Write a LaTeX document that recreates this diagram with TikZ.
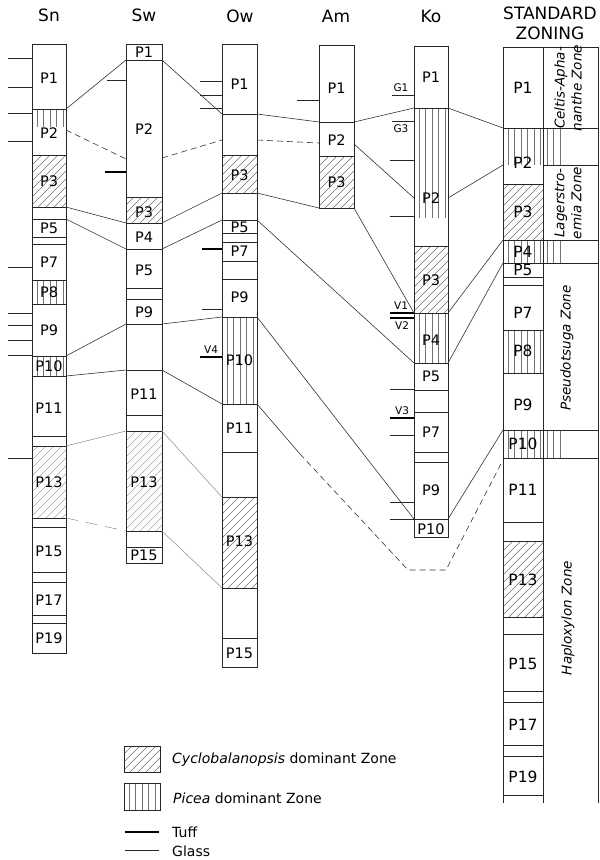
\documentclass[tikz,border=0pt]{standalone}
\usepackage{fontspec}
\setmainfont{DejaVu Sans}
\newcommand\dhatch[5][hatchline]{\begin{scope}\clip (#2,#3) rectangle (#4,#5);
 \foreach \k in {-130,-122,...,60}{\draw[#1] (#2+\k,#5) -- ++(200,-200);}\end{scope}}
\newcommand\vhatch[4]{\begin{scope}\clip (#1,#2) rectangle (#3,#4);
 \foreach \k in {5,11.5,...,60}{\draw[vln] (#1+\k,#2) -- (#1+\k,#4);}\end{scope}}
\newcommand\lk[6][corr]{\coordinate (#2a) at (#3,#4); \coordinate (#2b) at (#5,#6); \draw[#1] (#2a) -- (#2b);}
\newcommand\hls[3]{\foreach \yy in {#3}{\draw[frame] (#1,\yy) -- (#2,\yy);}}
\newcommand\tks[4][glass]{\foreach \yy in {#4}{\draw[#1] (#2,\yy) -- (#3,\yy);}}
\begin{document}
\begin{tikzpicture}[x=1pt,y=-1pt,
  frame/.style={draw=black!85, line width=0.7pt},
  hatchline/.style={draw=black!55, line width=0.4pt},
  fainthatch/.style={draw=black!35, line width=0.4pt},
  vln/.style={draw=black!55, line width=0.4pt},
  corr/.style={draw=black!80, line width=0.6pt},
  faint/.style={draw=black!45, line width=0.5pt},
  dashcorr/.style={corr, dash pattern=on 6pt off 4pt},
  faintdash/.style={faint, dash pattern=on 12pt off 8pt},
  glass/.style={draw=black!85, line width=0.6pt},
  tuff/.style={draw=black, line width=1.4pt},
  lab/.style={font=\fontsize{14.5}{15}\selectfont, inner sep=0pt},
  slab/.style={font=\fontsize{15.5}{16}\selectfont, inner sep=0pt},
  ttl/.style={font=\fontsize{17}{18}\selectfont, inner sep=0pt},
  tk/.style={font=\fontsize{10.5}{11}\selectfont, inner sep=0pt},
  zone/.style={font=\fontsize{13.5}{17}\selectfont\itshape, rotate=90, align=center, inner sep=0pt},
  leg/.style={font=\fontsize{14}{15}\selectfont, inner sep=0pt, anchor=west},
]
\useasboundingbox (0,0) rectangle (600,860);

% ---------- titles ----------
\node[ttl] (tSn) at (49,15) {Sn};
\node[ttl] (tSw) at (144,15) {Sw};
\node[ttl] (tOw) at (240,16) {Ow};
\node[ttl] (tAm) at (336,16) {Am};
\node[ttl] (tKo) at (431,16) {Ko};
\node[ttl] (tStd1) at (550,13) {STANDARD};
\node[ttl] (tStd2) at (550,33) {ZONING};

% ---------- hatching ----------
% Sn
\vhatch{32}{109}{66}{127}
\dhatch{32}{155}{66}{207}
\vhatch{32}{280}{66}{304}
\vhatch{32}{356}{66}{376}
\dhatch[fainthatch]{32}{446}{66}{518}
% Sw
\dhatch{126}{197}{162}{223}
\dhatch[fainthatch]{126}{431}{162}{531}
% Ow
\dhatch{222}{155}{257}{193}
\vhatch{222}{317}{257}{404}
\dhatch{222}{497}{257}{588}
% Am
\dhatch{319}{156}{354}{208}
% Ko
\vhatch{414}{108}{448}{218}
\dhatch{414}{246}{448}{313}
\vhatch{414}{313}{448}{363}
% Standard
\vhatch{503}{128}{598}{165}
\dhatch{503}{184}{543}{240}
\vhatch{503}{240}{598}{263}
\vhatch{503}{330}{543}{373}
\vhatch{503}{430}{598}{458}
\dhatch{503}{541}{543}{617}

% ---------- columns ----------
\draw[frame] (32,44) rectangle (66,653);
\hls{32}{66}{109,155,207,219,237,244,280,304,356,376,436,446,518,527,572,582,615,623}
\draw[frame] (126,44) rectangle (162,563);
\hls{126}{162}{60,197,223,249,288,299,324,370,415,431,531,547}
\draw[frame] (222,44) rectangle (257,667);
\hls{222}{257}{114,155,193,220,233,242,261,279,317,404,452,497,588,638}
\draw[frame] (319,45) rectangle (354,208);
\hls{319}{354}{122,156}
\draw[frame] (414,46) rectangle (448,537);
\hls{414}{448}{108,246,313,363,390,412,452,462,519}
% Standard
\draw[frame] (503,803) -- (503,47) -- (598,47) -- (598,803);
\draw[frame] (543,47) -- (543,803);
\hls{503}{598}{128,240,263,430,458}
\hls{543}{598}{165}
\hls{503}{543}{184,277,285,330,373,522,541,617,634,691,702,745,756,795}

% ---------- ticks ----------
\tks{8}{32}{58,87,113,141,267,313,325,340,355,458}
\tks{107}{126}{80}
\tks[tuff]{105}{126}{172}
\tks{200}{222}{81,95,108}
\tks[tuff]{202}{222}{249}
\tks{202}{222}{309}
\tks[tuff]{200}{222}{357}
\tks{297}{319}{100}
\tks{392}{414}{95,121}
\tks{390}{414}{160,216,389,435,502,519}
\tks[tuff]{390}{414}{313,318,418}
\node[tk] (gG1) at (401,88) {G1};
\node[tk] (gG3) at (401,129) {G3};
\node[tk] (gV1) at (401,306) {V1};
\node[tk] (gV2) at (402,326) {V2};
\node[tk] (gV3) at (402,411) {V3};
\node[tk] (gV4) at (211,350) {V4};

% ---------- labels ----------
\foreach \t/\yy in {1/78,2/133,3/181,5/228,7/262,8/292,9/330,10/366,11/408,13/482,15/551,17/600,19/638}
  {\node[lab] (sn\t) at (49,\yy) {P\t};}
\foreach \t/\yy in {1/52,2/129,3/212,4/237,5/270,9/312,11/394,13/482,15/555}
  {\node[lab] (sw\t) at (144,\yy) {P\t};}
\foreach \t/\yy in {1/84,3/175,5/227,7/251,9/297,10/360,11/428,13/541,15/653}
  {\node[lab] (ow\t) at (239.5,\yy) {P\t};}
\foreach \t/\yy in {1/88,2/140,3/182}
  {\node[lab] (am\t) at (336.5,\yy) {P\t};}
\foreach \t/\yy in {1/77,2/198,3/280,4/340,5/376,7/432,9/490,10/529}
  {\node[lab] (ko\t) at (431,\yy) {P\t};}
\foreach \t/\yy in {1/88,2/163,3/212,4/252,5/270,7/313,8/351,9/405,10/444,11/490,13/580,15/664,17/725,19/777}
  {\node[slab] (st\t) at (523,\yy) {P\t};}

% ---------- zone names ----------
\node[zone] (zC) at (568,88) {Celtis-Apha-\\nanthe Zone};
\node[zone] (zL) at (568,203) {Lagerstro-\\emia Zone};
\node[zone] (zP) at (567,348) {Pseudotsuga Zone};
\node[zone] (zH) at (568,618) {Haploxylon Zone};

% ---------- correlation lines ----------
\lk{c1}{66}{109}{126}{60}
\lk[dashcorr]{c2}{66}{130}{126}{159}
\lk{c3}{162}{60}{222}{114}
\lk[dashcorr]{c4}{162}{158}{222}{140}
\lk{c5}{257}{114}{319}{122}
\lk[dashcorr]{c6}{257}{140}{319}{143}
\lk{c7}{257}{193}{319}{208}
\lk{c8}{354}{122}{414}{108}
\lk{c9}{354}{144}{414}{198}
\lk{c10}{354}{208}{414}{313}
\lk{c11}{448}{108}{503}{128}
\lk{c12}{448}{198}{503}{165}
\lk{c13}{448}{313}{503}{240}
\lk{c14}{448}{363}{503}{263}
\lk{c15}{448}{519}{503}{430}
\lk{c17}{257}{317}{414}{519}
\lk{c18}{257}{220}{414}{363}
\lk{c19}{162}{223}{222}{193}
\lk{c20}{162}{249}{222}{220}
\lk{c21}{162}{324}{222}{317}
\lk{c22}{162}{370}{222}{404}
\lk[faint]{c23}{162}{431}{222}{497}
\lk[faint]{c24}{162}{531}{222}{588}
\lk{c25}{66}{207}{126}{223}
\lk{c26}{66}{219}{126}{249}
\lk{c27}{66}{356}{126}{324}
\lk{c28}{66}{376}{126}{370}
\lk[faint]{c29}{66}{446}{126}{431}
\lk[faintdash]{c30}{66}{518}{126}{531}
% long dashed line Ow P10 -> Standard P11
\coordinate (d0) at (257,404);
\coordinate (d1) at (300,454);
\coordinate (d2) at (408,570);
\coordinate (d3) at (446,570);
\coordinate (d4) at (503,460);
\draw[corr] (d0) -- (d1);
\draw[dashcorr] (d1) -- (d2) -- (d3) -- (d4);

% ---------- legend ----------
\dhatch{124}{746}{160}{772}
\draw[frame] (124,746) rectangle (160,772);
\node[leg] (lgC) at (172,760) {\textit{Cyclobalanopsis} dominant Zone};
\vhatch{124}{783}{160}{810}
\draw[frame] (124,783) rectangle (160,810);
\node[leg] (lgP) at (173,798) {\textit{Picea} dominant Zone};
\coordinate (lt1) at (125,832); \coordinate (lt2) at (159,832);
\draw[tuff, line width=1.1pt] (lt1) -- (lt2);
\node[leg] (lgT) at (172,832) {Tuff};
\coordinate (lg1) at (125,850); \coordinate (lg2) at (159,850);
\draw[glass] (lg1) -- (lg2);
\node[leg] (lgG) at (172,851) {Glass};
\end{tikzpicture}
\end{document}
